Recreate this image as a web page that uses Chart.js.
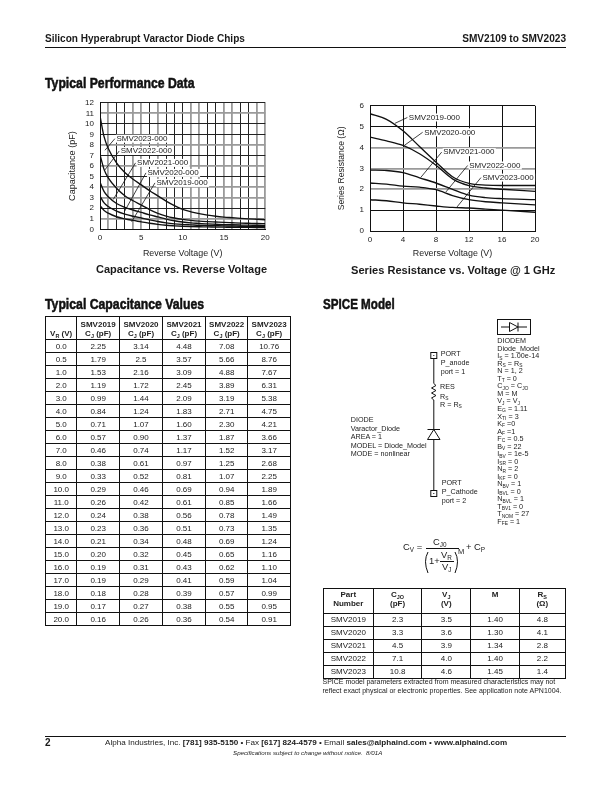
<!DOCTYPE html>
<html><head><meta charset="utf-8">
<script src="https://cdn.jsdelivr.net/npm/chart.js@4"></script>
<style>
html,body{margin:0;padding:0;background:#fff;width:612px;height:792px;overflow:hidden}
body{position:relative;font-family:"Liberation Sans",Arial,sans-serif;color:#1a1a1a}
.t{position:absolute;white-space:nowrap;transform:translateY(-50%);line-height:1}
.h{font-weight:bold;font-size:15.5px;transform:translateY(-50%) scaleX(.79);transform-origin:0 50%;-webkit-text-stroke:.55px #111;color:#111}
.r{position:absolute;background:#111}
sub{font-size:68%;vertical-align:baseline;position:relative;top:.28em;line-height:0}
canvas{position:absolute}
table{position:absolute;border-collapse:collapse;table-layout:fixed;color:#222}
td,th{border:1px solid #111;padding:0;text-align:center;box-sizing:border-box;font-size:8px;height:13px;line-height:9px;overflow:hidden}
th{font-size:8px;font-weight:bold;vertical-align:bottom;padding-bottom:1px}
th.top{vertical-align:top;padding-top:1px}
#params{position:absolute;left:497.3px;top:337.2px;font-size:7.2px;line-height:7.53px;white-space:nowrap;color:#222}
svg{position:absolute;left:0;top:0}
</style></head><body>
<canvas id="c1" width="213" height="167" style="left:67px;top:92px"></canvas>
<canvas id="c2" width="225" height="164" style="left:336px;top:95px"></canvas>
<svg width="612" height="792" fill="none" stroke="#111" stroke-width="1">
  <rect x="430.8" y="352.5" width="6" height="6"/><rect x="433.3" y="355" width="1" height="1" fill="#111" stroke="none"/>
  <path d="M433.8 358.5V383.5L436 385.5L431.5 388L436 390.5L431.5 393L436 395.5L431.5 398L433.8 400V429" />
  <path d="M427.5 429.5H440M433.8 429.5L427.5 439.5H440ZM433.8 439.5V490"/>
  <rect x="430.8" y="490.5" width="6" height="6"/><rect x="433.3" y="493" width="1" height="1" fill="#111" stroke="none"/>
  <rect x="497.5" y="319.5" width="33" height="15"/>
  <path d="M501 327H509.5M509.5 322.5V331.5L518 327ZM518 322.5V331.5M518 327H527"/>
  <path d="M426 548.5H459M440 561.5H454"/>
  <path d="M428 552Q423 561 428 573"/>
  <path d="M455 552Q460 561 455 573"/>
</svg>
<script>
// ---- capacitance table / chart data ----
const reverseVoltage=[0,0.5,1,2,3,4,5,6,7,8,9,10,11,12,13,14,15,16,17,18,19,20];
const smv2019=[2.25,1.79,1.53,1.19,0.99,0.84,0.71,0.57,0.46,0.38,0.33,0.29,0.26,0.24,0.23,0.21,0.20,0.19,0.19,0.18,0.17,0.16];
const smv2020=[3.14,2.5,2.16,1.72,1.44,1.24,1.07,0.90,0.74,0.61,0.52,0.46,0.42,0.38,0.36,0.34,0.32,0.31,0.29,0.28,0.27,0.26];
const smv2021=[4.48,3.57,3.09,2.45,2.09,1.83,1.60,1.37,1.17,0.97,0.81,0.69,0.61,0.56,0.51,0.48,0.45,0.43,0.41,0.39,0.38,0.36];
const smv2022=[7.08,5.66,4.88,3.89,3.19,2.71,2.30,1.87,1.52,1.25,1.07,0.94,0.85,0.78,0.73,0.69,0.65,0.62,0.59,0.57,0.55,0.54];
const smv2023=[10.76,8.76,7.67,6.31,5.38,4.75,4.21,3.66,3.17,2.68,2.25,1.89,1.66,1.49,1.35,1.24,1.16,1.10,1.04,0.99,0.95,0.91];
// ---- series resistance chart ----
const rsVoltage=[0,2,4,6,8,10,12,14,16,20];
const rs2019=[5.62,5.35,4.8,4.05,3.3,2.6,2.28,2.2,2.18,2.18];
const rs2020=[4.5,4.32,4.1,3.7,3.15,2.5,2.17,2.06,2.0,1.9];
const rs2021=[2.92,2.9,2.8,2.55,2.3,2.0,1.72,1.6,1.55,1.5];
const rs2022=[2.3,2.25,2.15,2.1,1.98,1.7,1.5,1.4,1.35,1.25];
const rs2023=[1.5,1.45,1.35,1.28,1.2,1.13,1.1,1.05,1.0,0.9];
// ---- leader lines [x0,y0,x1,y1] in data units, text labels ----
const partNames=['SMV2019-000','SMV2020-000','SMV2021-000','SMV2022-000','SMV2023-000'];
const capLeaders=[[3.83,0.72,6.65,4.4],[2.94,1.66,5.56,5.35],[1.6,2.83,4.3,6.3],[0.5,5.54,2.33,7.43],[0.6,7.5,1.8,8.6]];
const resLeaders=[[3.03,5.16,4.53,5.44],[4.16,4.1,6.38,4.73],[6.14,2.56,8.69,3.78],[9.2,1.87,11.84,3.14],[10.5,1.13,13.45,2.56]];
const capTicks=[0,5,10,15,20];
const resTicks=[0,4,8,12,16,20];
const resGrayLines=[2,3,4];
const capGrayY=[1,3,4,6,8,11];
const capGrayX=[1,4,5,7,11,12,15,16,19,20];
// ---- SPICE table ----
const spiceParts=['SMV2019','SMV2020','SMV2021','SMV2022','SMV2023'];
const spiceCjo=['2.3','3.3','4.5','7.1','10.8'];
const spiceVj=['3.5','3.6','3.9','4.0','4.6'];
const spiceM=['1.40','1.30','1.34','1.40','1.45'];
const spiceRs=['4.8','4.1','2.8','2.2','1.4'];

const FONT='"Liberation Sans", Arial, sans-serif';
const INK='#111',GRAY='#9a9a9a';
function T(x,y,html,size,extra){const d=document.createElement('div');d.className='t';d.style.left=x+'px';d.style.top=y+'px';d.style.fontSize=size+'px';if(extra)d.style.cssText+=extra;d.innerHTML=html;document.body.appendChild(d);return d;}
function H(x,y,s,sx){const d=T(x,y,s,15.5);d.className='t h';d.style.fontSize='15.5px';if(sx)d.style.transform=`translateY(-50%) scaleX(${sx})`;}
function rule(x,y,w,h){const d=document.createElement('div');d.className='r';d.style.cssText=`left:${x}px;top:${y}px;width:${w}px;height:${h}px`;document.body.appendChild(d);}

// page text
T(45,38.5,'Silicon Hyperabrupt Varactor Diode Chips',10.05,'font-weight:bold');
const hr=T(566,38.5,'SMV2109 to SMV2023',10.1,'font-weight:bold');hr.style.left='auto';hr.style.right='46px';
rule(45,46.5,521,1);
H(45,83,'Typical Performance Data');
H(45,304,'Typical Capacitance Values');
H(323,304,'SPICE Model',.75);
T(96,269,'Capacitance vs. Reverse Voltage',11,'font-weight:bold');
T(351,270.5,'Series Resistance vs. Voltage @ 1 GHz',11.1,'font-weight:bold');
rule(45,736,521,1);
T(45,742.5,'2',10,'font-weight:bold');
T(105,742.5,'Alpha Industries, Inc. <b>[781] 935-5150</b> • Fax <b>[617] 824-4579</b> • Email <b>sales@alphaind.com</b> • <b>www.alphaind.com</b>',8.1);
T(233,753,'Specifications subject to change without notice.&nbsp; 8/01A',6.2,'font-style:italic');

// schematic text
[[440.7,354.3,'PORT'],[440.7,362.8,'P_anode'],[440.7,371.7,'port = 1'],[440,387.3,'RES'],[440,396.7,'R<sub>S</sub>'],[440,405,'R = R<sub>S</sub>'],
 [350.7,420,'DIODE'],[350.7,428.5,'Varactor_Diode'],[350.7,437.3,'AREA = 1'],[350.7,445.8,'MODEL = Diode_Model'],[350.7,454.3,'MODE = nonlinear'],
 [441.7,483.3,'PORT'],[441.7,492.3,'P_Cathode'],[441.7,500.7,'port = 2']].forEach(a=>T(a[0],a[1],a[2],7.2));
const params=document.createElement('div');params.id='params';
params.innerHTML=['DIODEM','Diode_Model','I<sub>S</sub> = 1.00e-14','R<sub>S</sub> = R<sub>S</sub>','N = 1, 2','T<sub>T</sub> = 0','C<sub>JO</sub> = C<sub>JO</sub>','M = M','V<sub>J</sub> = V<sub>J</sub>','E<sub>G</sub> = 1.11','X<sub>TI</sub> = 3','K<sub>F</sub> =0','A<sub>F</sub> =1','F<sub>C</sub> = 0.5','B<sub>V</sub> = 22','I<sub>BV</sub> = 1e-5','I<sub>SR</sub> = 0','N<sub>R</sub> = 2','I<sub>KF</sub> = 0','N<sub>BV</sub> = 1','I<sub>BVL</sub> = 0','N<sub>BVL</sub> = 1','T<sub>BV1</sub> = 0','T<sub>NOM</sub> = 27','F<sub>FE</sub> = 1'].join('<br>');
document.body.appendChild(params);

// formula
T(403,547,'C<sub>V</sub> =',9.4);
T(433,542,'C<sub>J0</sub>',9.4);
T(429,560.5,'1+',9.4);
T(441,555,'V<sub>R</sub>',9.4);
T(442,567,'V<sub>J</sub>',9.4);
T(458,552,'M',7.5);
T(466,547,'+ C<sub>P</sub>',9.4);
T(322.5,681,'SPICE model parameters extracted from measured characteristics may not',7);
T(322.5,690,'reflect exact physical or electronic properties. See application note APN1004.',7);

// tables
const fmt=v=>v===2.5?'2.5':v.toFixed(2);
const colsA=[31.4,42.6,43,43,42.4,42.6];
let h='<table style="left:45px;top:315.5px;width:'+colsA.reduce((a,b)=>a+b)+'px"><colgroup>'+colsA.map(w=>`<col style="width:${w}px">`).join('')+'</colgroup>';
h+='<tr><th style="height:23.5px">V<sub>R</sub> (V)</th>'+['SMV2019','SMV2020','SMV2021','SMV2022','SMV2023'].map(n=>`<th>${n}<br>C<sub>J</sub> (pF)</th>`).join('')+'</tr>';
reverseVoltage.forEach((v,i)=>{h+=`<tr><td>${v.toFixed(1)}</td>`+[smv2019,smv2020,smv2021,smv2022,smv2023].map(s=>`<td>${fmt(s[i])}</td>`).join('')+'</tr>';});
h+='</table>';
const colsB=[50.6,48,49.4,48.3,46];
h+='<table style="left:322.5px;top:588.3px;width:'+colsB.reduce((a,b)=>a+b)+'px"><colgroup>'+colsB.map(w=>`<col style="width:${w}px">`).join('')+'</colgroup>';
h+='<tr><th class="top" style="height:24.4px">Part<br>Number</th><th class="top">C<sub>JO</sub><br>(pF)</th><th class="top">V<sub>J</sub><br>(V)</th><th class="top">M</th><th class="top">R<sub>S</sub><br>(Ω)</th></tr>';
spiceParts.forEach((p,i)=>{h+=`<tr><td>${p}</td><td>${spiceCjo[i]}</td><td>${spiceVj[i]}</td><td>${spiceM[i]}</td><td>${spiceRs[i]}</td></tr>`;});
h+='</table>';
document.body.insertAdjacentHTML('beforeend',h);

// charts
const labelPlugin={id:'partLabels',afterDatasetsDraw(chart,a,opts){
  const {ctx,scales:{x,y}}=chart;ctx.save();ctx.font='8px '+FONT;ctx.textBaseline='middle';
  opts.leaders.forEach((l,i)=>{const px=x.getPixelForValue(l[2])+1,py=y.getPixelForValue(l[3]);
    const w=ctx.measureText(partNames[i]).width;
    ctx.fillStyle='#fff';ctx.fillRect(px,py-4,w+2,8);
    ctx.fillStyle='#222';ctx.fillText(partNames[i],px+0.5,py);});
  ctx.restore();}};
function curves(xs,sets,leaders){
  const ds=sets.map(s=>({data:xs.map((v,i)=>({x:v,y:s[i]})),borderColor:INK,borderWidth:1.35,pointRadius:0,cubicInterpolationMode:'monotone'}));
  leaders.forEach(l=>ds.push({data:[{x:l[0],y:l[1]},{x:l[2],y:l[3]}],borderColor:INK,borderWidth:0.8,pointRadius:0}));
  return ds;}
function makeChart(id,xs,sets,leaders,cfg){
  return new Chart(document.getElementById(id),{type:'line',plugins:[labelPlugin],
   data:{datasets:curves(xs,sets,leaders)},
   options:{responsive:false,animation:false,devicePixelRatio:1,
    layout:{padding:cfg.pad},
    plugins:{legend:{display:false},tooltip:{enabled:false},partLabels:{leaders}},
    scales:{
     x:{type:'linear',min:0,max:20,border:{color:INK,width:1},
        grid:{color:cfg.xColor||INK,lineWidth:cfg.xWidth||1,drawTicks:false},
        ticks:{stepSize:cfg.xStep,autoSkip:false,maxRotation:0,padding:3.5,color:'#222',font:{size:8,family:FONT},
          callback:v=>cfg.xLabels.includes(v)?String(v):''},
        title:{display:true,text:'Reverse Voltage (V)',color:'#222',font:{size:8.9,family:FONT},padding:{top:0,bottom:0}},
        afterFit:s=>{s.height=cfg.axisH;}},
     y:{min:0,max:cfg.yMax,border:{color:INK,width:1},
        grid:{color:cfg.yColor||INK,lineWidth:cfg.yWidth||1,drawTicks:false},
        ticks:{stepSize:1,autoSkip:false,padding:6,color:'#222',font:{size:8,family:FONT}},
        title:{display:true,text:cfg.yTitle,color:'#222',font:{size:cfg.yTitleSize,family:FONT},padding:{top:0,bottom:0}},
        afterFit:s=>{s.width=cfg.axisW;}}
    }}});
}
const grayOr=(list,a,b)=>c=>list.includes(c.tick&&c.tick.value)?a:b;
const capSets=[smv2019,smv2020,smv2021,smv2022,smv2023];
makeChart('c1',reverseVoltage,capSets,capLeaders,{yMax:12,xStep:1,xLabels:capTicks,yTitle:'Capacitance (pF)',yTitleSize:9.1,axisW:33,axisH:29.7,pad:{top:10.3,right:14.7,left:0,bottom:0},
  xColor:grayOr(capGrayX,GRAY,'#222'),xWidth:grayOr(capGrayX,1.8,1),yColor:grayOr(capGrayY,GRAY,'#222'),yWidth:grayOr(capGrayY,1.8,1)});
makeChart('c2',rsVoltage,[rs2019,rs2020,rs2021,rs2022,rs2023],resLeaders,{yMax:6,xStep:4,xLabels:resTicks,yTitle:'Series Resistance (Ω)',yTitleSize:8.6,axisW:34,axisH:28,pad:{top:10,right:26,left:0,bottom:0},
  yColor:grayOr(resGrayLines,GRAY,INK),yWidth:grayOr(resGrayLines,1.8,1)});
</script>
</body></html>
